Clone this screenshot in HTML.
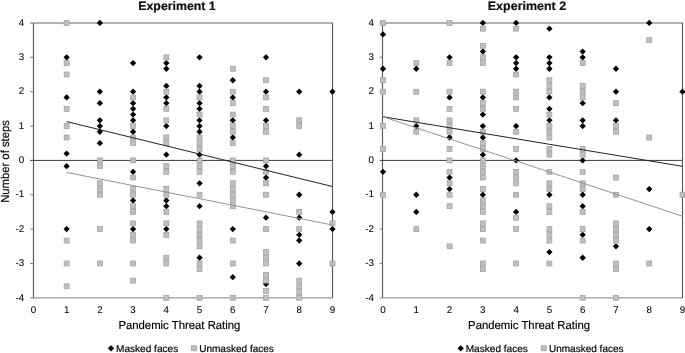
<!DOCTYPE html>
<html><head><meta charset="utf-8"><title>Experiments</title>
<style>
html,body{margin:0;padding:0;background:#fff;overflow:hidden;}
svg{display:block;filter:grayscale(1);}
text{font-family:"Liberation Sans",sans-serif;fill:#000;stroke:#000;stroke-width:0.18px;text-rendering:geometricPrecision;}
.t{font-size:9.8px;stroke-width:0.06px;}
.ax{font-size:11.6px;}
.lg{font-size:10px;}
.ttl{font-size:12.3px;font-weight:bold;fill:#111;}
</style></head><body>
<svg width="685" height="353" viewBox="0 0 685 353">
<rect width="685" height="353" fill="#fff"/>
<line x1="30.10" y1="22.96" x2="332.97" y2="22.96" stroke="#9a9a9a" stroke-width="1.4"/>
<line x1="30.10" y1="297.84" x2="332.97" y2="297.84" stroke="#9a9a9a" stroke-width="1.4"/>
<line x1="33.50" y1="22.96" x2="33.50" y2="297.84" stroke="#5c5c5c" stroke-width="1.15"/>
<line x1="332.50" y1="22.96" x2="332.50" y2="297.84" stroke="#5c5c5c" stroke-width="1.15"/>
<line x1="30.10" y1="263.48" x2="33.40" y2="263.48" stroke="#7a7a7a" stroke-width="1"/>
<line x1="30.10" y1="229.12" x2="33.40" y2="229.12" stroke="#7a7a7a" stroke-width="1"/>
<line x1="30.10" y1="194.76" x2="33.40" y2="194.76" stroke="#7a7a7a" stroke-width="1"/>
<line x1="30.10" y1="126.04" x2="33.40" y2="126.04" stroke="#7a7a7a" stroke-width="1"/>
<line x1="30.10" y1="91.68" x2="33.40" y2="91.68" stroke="#7a7a7a" stroke-width="1"/>
<line x1="30.10" y1="57.32" x2="33.40" y2="57.32" stroke="#7a7a7a" stroke-width="1"/>
<line x1="30.10" y1="160.40" x2="332.47" y2="160.40" stroke="#3c3c3c" stroke-width="1"/>
<path d="M66.63 54.17L69.78 57.32L66.63 60.47L63.48 57.32Z" fill="#000"/>
<path d="M66.63 94.26L69.78 97.41L66.63 100.56L63.48 97.41Z" fill="#000"/>
<path d="M66.63 150.38L69.78 153.53L66.63 156.68L63.48 153.53Z" fill="#000"/>
<path d="M66.63 162.98L69.78 166.13L66.63 169.28L63.48 166.13Z" fill="#000"/>
<path d="M66.63 225.97L69.78 229.12L66.63 232.27L63.48 229.12Z" fill="#000"/>
<path d="M99.86 19.81L103.01 22.96L99.86 26.11L96.71 22.96Z" fill="#000"/>
<path d="M99.86 88.53L103.01 91.68L99.86 94.83L96.71 91.68Z" fill="#000"/>
<path d="M99.86 99.98L103.01 103.13L99.86 106.28L96.71 103.13Z" fill="#000"/>
<path d="M99.86 117.16L103.01 120.31L99.86 123.46L96.71 120.31Z" fill="#000"/>
<path d="M99.86 122.89L103.01 126.04L99.86 129.19L96.71 126.04Z" fill="#000"/>
<path d="M99.86 128.62L103.01 131.77L99.86 134.92L96.71 131.77Z" fill="#000"/>
<path d="M99.86 140.07L103.01 143.22L99.86 146.37L96.71 143.22Z" fill="#000"/>
<path d="M133.09 59.90L136.24 63.05L133.09 66.20L129.94 63.05Z" fill="#000"/>
<path d="M133.09 88.53L136.24 91.68L133.09 94.83L129.94 91.68Z" fill="#000"/>
<path d="M133.09 99.98L136.24 103.13L133.09 106.28L129.94 103.13Z" fill="#000"/>
<path d="M133.09 105.71L136.24 108.86L133.09 112.01L129.94 108.86Z" fill="#000"/>
<path d="M133.09 111.44L136.24 114.59L133.09 117.74L129.94 114.59Z" fill="#000"/>
<path d="M133.09 117.16L136.24 120.31L133.09 123.46L129.94 120.31Z" fill="#000"/>
<path d="M133.09 128.62L136.24 131.77L133.09 134.92L129.94 131.77Z" fill="#000"/>
<path d="M133.09 168.70L136.24 171.85L133.09 175.00L129.94 171.85Z" fill="#000"/>
<path d="M133.09 197.34L136.24 200.49L133.09 203.64L129.94 200.49Z" fill="#000"/>
<path d="M133.09 225.97L136.24 229.12L133.09 232.27L129.94 229.12Z" fill="#000"/>
<path d="M166.32 59.90L169.47 63.05L166.32 66.20L163.17 63.05Z" fill="#000"/>
<path d="M166.32 65.62L169.47 68.77L166.32 71.92L163.17 68.77Z" fill="#000"/>
<path d="M166.32 82.80L169.47 85.95L166.32 89.10L163.17 85.95Z" fill="#000"/>
<path d="M166.32 94.26L169.47 97.41L166.32 100.56L163.17 97.41Z" fill="#000"/>
<path d="M166.32 99.98L169.47 103.13L166.32 106.28L163.17 103.13Z" fill="#000"/>
<path d="M166.32 122.89L169.47 126.04L166.32 129.19L163.17 126.04Z" fill="#000"/>
<path d="M166.32 151.52L169.47 154.67L166.32 157.82L163.17 154.67Z" fill="#000"/>
<path d="M166.32 197.34L169.47 200.49L166.32 203.64L163.17 200.49Z" fill="#000"/>
<path d="M166.32 203.06L169.47 206.21L166.32 209.36L163.17 206.21Z" fill="#000"/>
<path d="M166.32 225.97L169.47 229.12L166.32 232.27L163.17 229.12Z" fill="#000"/>
<path d="M199.55 54.17L202.70 57.32L199.55 60.47L196.40 57.32Z" fill="#000"/>
<path d="M199.55 82.80L202.70 85.95L199.55 89.10L196.40 85.95Z" fill="#000"/>
<path d="M199.55 88.53L202.70 91.68L199.55 94.83L196.40 91.68Z" fill="#000"/>
<path d="M199.55 99.98L202.70 103.13L199.55 106.28L196.40 103.13Z" fill="#000"/>
<path d="M199.55 105.71L202.70 108.86L199.55 112.01L196.40 108.86Z" fill="#000"/>
<path d="M199.55 117.16L202.70 120.31L199.55 123.46L196.40 120.31Z" fill="#000"/>
<path d="M199.55 122.89L202.70 126.04L199.55 129.19L196.40 126.04Z" fill="#000"/>
<path d="M199.55 128.62L202.70 131.77L199.55 134.92L196.40 131.77Z" fill="#000"/>
<path d="M199.55 151.52L202.70 154.67L199.55 157.82L196.40 154.67Z" fill="#000"/>
<path d="M199.55 180.16L202.70 183.31L199.55 186.46L196.40 183.31Z" fill="#000"/>
<path d="M199.55 203.06L202.70 206.21L199.55 209.36L196.40 206.21Z" fill="#000"/>
<path d="M199.55 254.60L202.70 257.75L199.55 260.90L196.40 257.75Z" fill="#000"/>
<path d="M232.78 77.08L235.93 80.23L232.78 83.38L229.63 80.23Z" fill="#000"/>
<path d="M232.78 94.26L235.93 97.41L232.78 100.56L229.63 97.41Z" fill="#000"/>
<path d="M232.78 117.16L235.93 120.31L232.78 123.46L229.63 120.31Z" fill="#000"/>
<path d="M232.78 134.34L235.93 137.49L232.78 140.64L229.63 137.49Z" fill="#000"/>
<path d="M232.78 225.97L235.93 229.12L232.78 232.27L229.63 229.12Z" fill="#000"/>
<path d="M232.78 274.07L235.93 277.22L232.78 280.37L229.63 277.22Z" fill="#000"/>
<path d="M266.01 54.17L269.16 57.32L266.01 60.47L262.86 57.32Z" fill="#000"/>
<path d="M266.01 88.53L269.16 91.68L266.01 94.83L262.86 91.68Z" fill="#000"/>
<path d="M266.01 117.16L269.16 120.31L266.01 123.46L262.86 120.31Z" fill="#000"/>
<path d="M266.01 162.98L269.16 166.13L266.01 169.28L262.86 166.13Z" fill="#000"/>
<path d="M266.01 174.43L269.16 177.58L266.01 180.73L262.86 177.58Z" fill="#000"/>
<path d="M266.01 214.52L269.16 217.67L266.01 220.82L262.86 217.67Z" fill="#000"/>
<path d="M266.01 280.95L269.16 284.10L266.01 287.25L262.86 284.10Z" fill="#000"/>
<path d="M299.24 88.53L302.39 91.68L299.24 94.83L296.09 91.68Z" fill="#000"/>
<path d="M299.24 151.52L302.39 154.67L299.24 157.82L296.09 154.67Z" fill="#000"/>
<path d="M299.24 191.61L302.39 194.76L299.24 197.91L296.09 194.76Z" fill="#000"/>
<path d="M299.24 214.52L302.39 217.67L299.24 220.82L296.09 217.67Z" fill="#000"/>
<path d="M299.24 231.70L302.39 234.85L299.24 238.00L296.09 234.85Z" fill="#000"/>
<path d="M299.24 237.42L302.39 240.57L299.24 243.72L296.09 240.57Z" fill="#000"/>
<path d="M299.24 260.33L302.39 263.48L299.24 266.63L296.09 263.48Z" fill="#000"/>
<path d="M332.47 88.53L335.62 91.68L332.47 94.83L329.32 91.68Z" fill="#000"/>
<path d="M332.47 208.79L335.62 211.94L332.47 215.09L329.32 211.94Z" fill="#000"/>
<path d="M332.47 225.97L335.62 229.12L332.47 232.27L329.32 229.12Z" fill="#000"/>
<rect x="64.18" y="20.51" width="4.90" height="4.90" fill="#c0c0c0" stroke="#a2a2a2" stroke-width="0.8"/>
<rect x="64.18" y="60.60" width="4.90" height="4.90" fill="#c0c0c0" stroke="#a2a2a2" stroke-width="0.8"/>
<rect x="64.18" y="72.05" width="4.90" height="4.90" fill="#c0c0c0" stroke="#a2a2a2" stroke-width="0.8"/>
<rect x="64.18" y="106.41" width="4.90" height="4.90" fill="#c0c0c0" stroke="#a2a2a2" stroke-width="0.8"/>
<rect x="64.18" y="123.59" width="4.90" height="4.90" fill="#c0c0c0" stroke="#a2a2a2" stroke-width="0.8"/>
<rect x="64.18" y="135.04" width="4.90" height="4.90" fill="#c0c0c0" stroke="#a2a2a2" stroke-width="0.8"/>
<rect x="64.18" y="238.12" width="4.90" height="4.90" fill="#c0c0c0" stroke="#a2a2a2" stroke-width="0.8"/>
<rect x="64.18" y="261.03" width="4.90" height="4.90" fill="#c0c0c0" stroke="#a2a2a2" stroke-width="0.8"/>
<rect x="64.18" y="283.94" width="4.90" height="4.90" fill="#c0c0c0" stroke="#a2a2a2" stroke-width="0.8"/>
<rect x="97.41" y="157.95" width="4.90" height="4.90" fill="#c0c0c0" stroke="#a2a2a2" stroke-width="0.8"/>
<rect x="97.41" y="163.68" width="4.90" height="4.90" fill="#c0c0c0" stroke="#a2a2a2" stroke-width="0.8"/>
<rect x="97.41" y="180.86" width="4.90" height="4.90" fill="#c0c0c0" stroke="#a2a2a2" stroke-width="0.8"/>
<rect x="97.41" y="186.58" width="4.90" height="4.90" fill="#c0c0c0" stroke="#a2a2a2" stroke-width="0.8"/>
<rect x="97.41" y="192.31" width="4.90" height="4.90" fill="#c0c0c0" stroke="#a2a2a2" stroke-width="0.8"/>
<rect x="97.41" y="226.67" width="4.90" height="4.90" fill="#c0c0c0" stroke="#a2a2a2" stroke-width="0.8"/>
<rect x="97.41" y="261.03" width="4.90" height="4.90" fill="#c0c0c0" stroke="#a2a2a2" stroke-width="0.8"/>
<rect x="130.64" y="94.96" width="4.90" height="4.90" fill="#c0c0c0" stroke="#a2a2a2" stroke-width="0.8"/>
<rect x="130.64" y="123.59" width="4.90" height="4.90" fill="#c0c0c0" stroke="#a2a2a2" stroke-width="0.8"/>
<rect x="130.64" y="135.04" width="4.90" height="4.90" fill="#c0c0c0" stroke="#a2a2a2" stroke-width="0.8"/>
<rect x="130.64" y="140.77" width="4.90" height="4.90" fill="#c0c0c0" stroke="#a2a2a2" stroke-width="0.8"/>
<rect x="130.64" y="157.95" width="4.90" height="4.90" fill="#c0c0c0" stroke="#a2a2a2" stroke-width="0.8"/>
<rect x="130.64" y="175.13" width="4.90" height="4.90" fill="#c0c0c0" stroke="#a2a2a2" stroke-width="0.8"/>
<rect x="130.64" y="186.58" width="4.90" height="4.90" fill="#c0c0c0" stroke="#a2a2a2" stroke-width="0.8"/>
<rect x="130.64" y="192.31" width="4.90" height="4.90" fill="#c0c0c0" stroke="#a2a2a2" stroke-width="0.8"/>
<rect x="130.64" y="203.76" width="4.90" height="4.90" fill="#c0c0c0" stroke="#a2a2a2" stroke-width="0.8"/>
<rect x="130.64" y="209.49" width="4.90" height="4.90" fill="#c0c0c0" stroke="#a2a2a2" stroke-width="0.8"/>
<rect x="130.64" y="220.94" width="4.90" height="4.90" fill="#c0c0c0" stroke="#a2a2a2" stroke-width="0.8"/>
<rect x="130.64" y="232.40" width="4.90" height="4.90" fill="#c0c0c0" stroke="#a2a2a2" stroke-width="0.8"/>
<rect x="130.64" y="238.12" width="4.90" height="4.90" fill="#c0c0c0" stroke="#a2a2a2" stroke-width="0.8"/>
<rect x="130.64" y="261.03" width="4.90" height="4.90" fill="#c0c0c0" stroke="#a2a2a2" stroke-width="0.8"/>
<rect x="130.64" y="278.21" width="4.90" height="4.90" fill="#c0c0c0" stroke="#a2a2a2" stroke-width="0.8"/>
<rect x="163.87" y="54.87" width="4.90" height="4.90" fill="#c0c0c0" stroke="#a2a2a2" stroke-width="0.8"/>
<rect x="163.87" y="89.23" width="4.90" height="4.90" fill="#c0c0c0" stroke="#a2a2a2" stroke-width="0.8"/>
<rect x="163.87" y="106.41" width="4.90" height="4.90" fill="#c0c0c0" stroke="#a2a2a2" stroke-width="0.8"/>
<rect x="163.87" y="117.86" width="4.90" height="4.90" fill="#c0c0c0" stroke="#a2a2a2" stroke-width="0.8"/>
<rect x="163.87" y="135.04" width="4.90" height="4.90" fill="#c0c0c0" stroke="#a2a2a2" stroke-width="0.8"/>
<rect x="163.87" y="140.77" width="4.90" height="4.90" fill="#c0c0c0" stroke="#a2a2a2" stroke-width="0.8"/>
<rect x="163.87" y="163.68" width="4.90" height="4.90" fill="#c0c0c0" stroke="#a2a2a2" stroke-width="0.8"/>
<rect x="163.87" y="169.40" width="4.90" height="4.90" fill="#c0c0c0" stroke="#a2a2a2" stroke-width="0.8"/>
<rect x="163.87" y="186.58" width="4.90" height="4.90" fill="#c0c0c0" stroke="#a2a2a2" stroke-width="0.8"/>
<rect x="163.87" y="192.31" width="4.90" height="4.90" fill="#c0c0c0" stroke="#a2a2a2" stroke-width="0.8"/>
<rect x="163.87" y="209.49" width="4.90" height="4.90" fill="#c0c0c0" stroke="#a2a2a2" stroke-width="0.8"/>
<rect x="163.87" y="220.94" width="4.90" height="4.90" fill="#c0c0c0" stroke="#a2a2a2" stroke-width="0.8"/>
<rect x="163.87" y="232.40" width="4.90" height="4.90" fill="#c0c0c0" stroke="#a2a2a2" stroke-width="0.8"/>
<rect x="163.87" y="255.30" width="4.90" height="4.90" fill="#c0c0c0" stroke="#a2a2a2" stroke-width="0.8"/>
<rect x="163.87" y="261.03" width="4.90" height="4.90" fill="#c0c0c0" stroke="#a2a2a2" stroke-width="0.8"/>
<rect x="163.87" y="295.39" width="4.90" height="4.90" fill="#c0c0c0" stroke="#a2a2a2" stroke-width="0.8"/>
<rect x="197.10" y="94.96" width="4.90" height="4.90" fill="#c0c0c0" stroke="#a2a2a2" stroke-width="0.8"/>
<rect x="197.10" y="112.14" width="4.90" height="4.90" fill="#c0c0c0" stroke="#a2a2a2" stroke-width="0.8"/>
<rect x="197.10" y="135.04" width="4.90" height="4.90" fill="#c0c0c0" stroke="#a2a2a2" stroke-width="0.8"/>
<rect x="197.10" y="140.77" width="4.90" height="4.90" fill="#c0c0c0" stroke="#a2a2a2" stroke-width="0.8"/>
<rect x="197.10" y="146.50" width="4.90" height="4.90" fill="#c0c0c0" stroke="#a2a2a2" stroke-width="0.8"/>
<rect x="197.10" y="157.95" width="4.90" height="4.90" fill="#c0c0c0" stroke="#a2a2a2" stroke-width="0.8"/>
<rect x="197.10" y="163.68" width="4.90" height="4.90" fill="#c0c0c0" stroke="#a2a2a2" stroke-width="0.8"/>
<rect x="197.10" y="169.40" width="4.90" height="4.90" fill="#c0c0c0" stroke="#a2a2a2" stroke-width="0.8"/>
<rect x="197.10" y="192.31" width="4.90" height="4.90" fill="#c0c0c0" stroke="#a2a2a2" stroke-width="0.8"/>
<rect x="197.10" y="220.94" width="4.90" height="4.90" fill="#c0c0c0" stroke="#a2a2a2" stroke-width="0.8"/>
<rect x="197.10" y="226.67" width="4.90" height="4.90" fill="#c0c0c0" stroke="#a2a2a2" stroke-width="0.8"/>
<rect x="197.10" y="232.40" width="4.90" height="4.90" fill="#c0c0c0" stroke="#a2a2a2" stroke-width="0.8"/>
<rect x="197.10" y="238.12" width="4.90" height="4.90" fill="#c0c0c0" stroke="#a2a2a2" stroke-width="0.8"/>
<rect x="197.10" y="243.85" width="4.90" height="4.90" fill="#c0c0c0" stroke="#a2a2a2" stroke-width="0.8"/>
<rect x="197.10" y="261.03" width="4.90" height="4.90" fill="#c0c0c0" stroke="#a2a2a2" stroke-width="0.8"/>
<rect x="197.10" y="266.76" width="4.90" height="4.90" fill="#c0c0c0" stroke="#a2a2a2" stroke-width="0.8"/>
<rect x="197.10" y="295.39" width="4.90" height="4.90" fill="#c0c0c0" stroke="#a2a2a2" stroke-width="0.8"/>
<rect x="230.33" y="66.32" width="4.90" height="4.90" fill="#c0c0c0" stroke="#a2a2a2" stroke-width="0.8"/>
<rect x="230.33" y="89.23" width="4.90" height="4.90" fill="#c0c0c0" stroke="#a2a2a2" stroke-width="0.8"/>
<rect x="230.33" y="100.68" width="4.90" height="4.90" fill="#c0c0c0" stroke="#a2a2a2" stroke-width="0.8"/>
<rect x="230.33" y="112.14" width="4.90" height="4.90" fill="#c0c0c0" stroke="#a2a2a2" stroke-width="0.8"/>
<rect x="230.33" y="123.59" width="4.90" height="4.90" fill="#c0c0c0" stroke="#a2a2a2" stroke-width="0.8"/>
<rect x="230.33" y="129.32" width="4.90" height="4.90" fill="#c0c0c0" stroke="#a2a2a2" stroke-width="0.8"/>
<rect x="230.33" y="140.77" width="4.90" height="4.90" fill="#c0c0c0" stroke="#a2a2a2" stroke-width="0.8"/>
<rect x="230.33" y="157.95" width="4.90" height="4.90" fill="#c0c0c0" stroke="#a2a2a2" stroke-width="0.8"/>
<rect x="230.33" y="163.68" width="4.90" height="4.90" fill="#c0c0c0" stroke="#a2a2a2" stroke-width="0.8"/>
<rect x="230.33" y="169.40" width="4.90" height="4.90" fill="#c0c0c0" stroke="#a2a2a2" stroke-width="0.8"/>
<rect x="230.33" y="180.86" width="4.90" height="4.90" fill="#c0c0c0" stroke="#a2a2a2" stroke-width="0.8"/>
<rect x="230.33" y="186.58" width="4.90" height="4.90" fill="#c0c0c0" stroke="#a2a2a2" stroke-width="0.8"/>
<rect x="230.33" y="192.31" width="4.90" height="4.90" fill="#c0c0c0" stroke="#a2a2a2" stroke-width="0.8"/>
<rect x="230.33" y="198.04" width="4.90" height="4.90" fill="#c0c0c0" stroke="#a2a2a2" stroke-width="0.8"/>
<rect x="230.33" y="203.76" width="4.90" height="4.90" fill="#c0c0c0" stroke="#a2a2a2" stroke-width="0.8"/>
<rect x="230.33" y="238.12" width="4.90" height="4.90" fill="#c0c0c0" stroke="#a2a2a2" stroke-width="0.8"/>
<rect x="230.33" y="261.03" width="4.90" height="4.90" fill="#c0c0c0" stroke="#a2a2a2" stroke-width="0.8"/>
<rect x="230.33" y="295.39" width="4.90" height="4.90" fill="#c0c0c0" stroke="#a2a2a2" stroke-width="0.8"/>
<rect x="263.56" y="77.78" width="4.90" height="4.90" fill="#c0c0c0" stroke="#a2a2a2" stroke-width="0.8"/>
<rect x="263.56" y="94.96" width="4.90" height="4.90" fill="#c0c0c0" stroke="#a2a2a2" stroke-width="0.8"/>
<rect x="263.56" y="106.41" width="4.90" height="4.90" fill="#c0c0c0" stroke="#a2a2a2" stroke-width="0.8"/>
<rect x="263.56" y="123.59" width="4.90" height="4.90" fill="#c0c0c0" stroke="#a2a2a2" stroke-width="0.8"/>
<rect x="263.56" y="129.32" width="4.90" height="4.90" fill="#c0c0c0" stroke="#a2a2a2" stroke-width="0.8"/>
<rect x="263.56" y="157.95" width="4.90" height="4.90" fill="#c0c0c0" stroke="#a2a2a2" stroke-width="0.8"/>
<rect x="263.56" y="169.40" width="4.90" height="4.90" fill="#c0c0c0" stroke="#a2a2a2" stroke-width="0.8"/>
<rect x="263.56" y="180.86" width="4.90" height="4.90" fill="#c0c0c0" stroke="#a2a2a2" stroke-width="0.8"/>
<rect x="263.56" y="192.31" width="4.90" height="4.90" fill="#c0c0c0" stroke="#a2a2a2" stroke-width="0.8"/>
<rect x="263.56" y="226.67" width="4.90" height="4.90" fill="#c0c0c0" stroke="#a2a2a2" stroke-width="0.8"/>
<rect x="263.56" y="249.58" width="4.90" height="4.90" fill="#c0c0c0" stroke="#a2a2a2" stroke-width="0.8"/>
<rect x="263.56" y="255.30" width="4.90" height="4.90" fill="#c0c0c0" stroke="#a2a2a2" stroke-width="0.8"/>
<rect x="263.56" y="261.03" width="4.90" height="4.90" fill="#c0c0c0" stroke="#a2a2a2" stroke-width="0.8"/>
<rect x="263.56" y="272.48" width="4.90" height="4.90" fill="#c0c0c0" stroke="#a2a2a2" stroke-width="0.8"/>
<rect x="263.56" y="278.21" width="4.90" height="4.90" fill="#c0c0c0" stroke="#a2a2a2" stroke-width="0.8"/>
<rect x="263.56" y="288.52" width="4.90" height="4.90" fill="#c0c0c0" stroke="#a2a2a2" stroke-width="0.8"/>
<rect x="263.56" y="295.39" width="4.90" height="4.90" fill="#c0c0c0" stroke="#a2a2a2" stroke-width="0.8"/>
<rect x="296.79" y="117.86" width="4.90" height="4.90" fill="#c0c0c0" stroke="#a2a2a2" stroke-width="0.8"/>
<rect x="296.79" y="123.59" width="4.90" height="4.90" fill="#c0c0c0" stroke="#a2a2a2" stroke-width="0.8"/>
<rect x="296.79" y="209.49" width="4.90" height="4.90" fill="#c0c0c0" stroke="#a2a2a2" stroke-width="0.8"/>
<rect x="296.79" y="226.67" width="4.90" height="4.90" fill="#c0c0c0" stroke="#a2a2a2" stroke-width="0.8"/>
<rect x="296.79" y="278.21" width="4.90" height="4.90" fill="#c0c0c0" stroke="#a2a2a2" stroke-width="0.8"/>
<rect x="296.79" y="283.94" width="4.90" height="4.90" fill="#c0c0c0" stroke="#a2a2a2" stroke-width="0.8"/>
<rect x="296.79" y="289.66" width="4.90" height="4.90" fill="#c0c0c0" stroke="#a2a2a2" stroke-width="0.8"/>
<rect x="296.79" y="295.39" width="4.90" height="4.90" fill="#c0c0c0" stroke="#a2a2a2" stroke-width="0.8"/>
<rect x="330.02" y="220.94" width="4.90" height="4.90" fill="#c0c0c0" stroke="#a2a2a2" stroke-width="0.8"/>
<rect x="330.02" y="261.03" width="4.90" height="4.90" fill="#c0c0c0" stroke="#a2a2a2" stroke-width="0.8"/>
<line x1="66.63" y1="121.57" x2="332.47" y2="186.51" stroke="#222" stroke-width="1"/>
<line x1="66.63" y1="172.43" x2="332.47" y2="225.00" stroke="#949494" stroke-width="1"/>
<text x="24.30" y="300.54" text-anchor="end" class="t">-4</text>
<text x="24.30" y="266.18" text-anchor="end" class="t">-3</text>
<text x="24.30" y="231.82" text-anchor="end" class="t">-2</text>
<text x="24.30" y="197.46" text-anchor="end" class="t">-1</text>
<text x="24.30" y="163.10" text-anchor="end" class="t">0</text>
<text x="24.30" y="128.74" text-anchor="end" class="t">1</text>
<text x="24.30" y="94.38" text-anchor="end" class="t">2</text>
<text x="24.30" y="60.02" text-anchor="end" class="t">3</text>
<text x="24.30" y="25.66" text-anchor="end" class="t">4</text>
<text x="33.40" y="313.2" text-anchor="middle" class="t">0</text>
<text x="66.63" y="313.2" text-anchor="middle" class="t">1</text>
<text x="99.86" y="313.2" text-anchor="middle" class="t">2</text>
<text x="133.09" y="313.2" text-anchor="middle" class="t">3</text>
<text x="166.32" y="313.2" text-anchor="middle" class="t">4</text>
<text x="199.55" y="313.2" text-anchor="middle" class="t">5</text>
<text x="232.78" y="313.2" text-anchor="middle" class="t">6</text>
<text x="266.01" y="313.2" text-anchor="middle" class="t">7</text>
<text x="299.24" y="313.2" text-anchor="middle" class="t">8</text>
<text x="332.47" y="313.2" text-anchor="middle" class="t">9</text>
<line x1="379.70" y1="22.96" x2="683.02" y2="22.96" stroke="#9a9a9a" stroke-width="1.4"/>
<line x1="379.70" y1="297.84" x2="683.02" y2="297.84" stroke="#9a9a9a" stroke-width="1.4"/>
<line x1="382.50" y1="22.96" x2="382.50" y2="297.84" stroke="#5c5c5c" stroke-width="1.15"/>
<line x1="682.50" y1="22.96" x2="682.50" y2="297.84" stroke="#5c5c5c" stroke-width="1.15"/>
<line x1="379.70" y1="263.48" x2="383.00" y2="263.48" stroke="#7a7a7a" stroke-width="1"/>
<line x1="379.70" y1="229.12" x2="383.00" y2="229.12" stroke="#7a7a7a" stroke-width="1"/>
<line x1="379.70" y1="194.76" x2="383.00" y2="194.76" stroke="#7a7a7a" stroke-width="1"/>
<line x1="379.70" y1="126.04" x2="383.00" y2="126.04" stroke="#7a7a7a" stroke-width="1"/>
<line x1="379.70" y1="91.68" x2="383.00" y2="91.68" stroke="#7a7a7a" stroke-width="1"/>
<line x1="379.70" y1="57.32" x2="383.00" y2="57.32" stroke="#7a7a7a" stroke-width="1"/>
<line x1="379.70" y1="160.40" x2="682.52" y2="160.40" stroke="#3c3c3c" stroke-width="1"/>
<path d="M383.00 31.26L386.15 34.41L383.00 37.56L379.85 34.41Z" fill="#000"/>
<path d="M383.00 65.62L386.15 68.77L383.00 71.92L379.85 68.77Z" fill="#000"/>
<path d="M383.00 168.70L386.15 171.85L383.00 175.00L379.85 171.85Z" fill="#000"/>
<path d="M416.28 65.62L419.43 68.77L416.28 71.92L413.13 68.77Z" fill="#000"/>
<path d="M416.28 122.89L419.43 126.04L416.28 129.19L413.13 126.04Z" fill="#000"/>
<path d="M416.28 191.61L419.43 194.76L416.28 197.91L413.13 194.76Z" fill="#000"/>
<path d="M416.28 208.79L419.43 211.94L416.28 215.09L413.13 211.94Z" fill="#000"/>
<path d="M449.56 54.17L452.71 57.32L449.56 60.47L446.41 57.32Z" fill="#000"/>
<path d="M449.56 94.26L452.71 97.41L449.56 100.56L446.41 97.41Z" fill="#000"/>
<path d="M449.56 134.34L452.71 137.49L449.56 140.64L446.41 137.49Z" fill="#000"/>
<path d="M449.56 174.43L452.71 177.58L449.56 180.73L446.41 177.58Z" fill="#000"/>
<path d="M449.56 185.88L452.71 189.03L449.56 192.18L446.41 189.03Z" fill="#000"/>
<path d="M482.84 19.81L485.99 22.96L482.84 26.11L479.69 22.96Z" fill="#000"/>
<path d="M482.84 48.44L485.99 51.59L482.84 54.74L479.69 51.59Z" fill="#000"/>
<path d="M482.84 94.26L485.99 97.41L482.84 100.56L479.69 97.41Z" fill="#000"/>
<path d="M482.84 111.44L485.99 114.59L482.84 117.74L479.69 114.59Z" fill="#000"/>
<path d="M482.84 122.89L485.99 126.04L482.84 129.19L479.69 126.04Z" fill="#000"/>
<path d="M482.84 134.34L485.99 137.49L482.84 140.64L479.69 137.49Z" fill="#000"/>
<path d="M482.84 151.52L485.99 154.67L482.84 157.82L479.69 154.67Z" fill="#000"/>
<path d="M482.84 191.61L485.99 194.76L482.84 197.91L479.69 194.76Z" fill="#000"/>
<path d="M516.12 19.81L519.27 22.96L516.12 26.11L512.97 22.96Z" fill="#000"/>
<path d="M516.12 54.17L519.27 57.32L516.12 60.47L512.97 57.32Z" fill="#000"/>
<path d="M516.12 59.90L519.27 63.05L516.12 66.20L512.97 63.05Z" fill="#000"/>
<path d="M516.12 65.62L519.27 68.77L516.12 71.92L512.97 68.77Z" fill="#000"/>
<path d="M516.12 122.89L519.27 126.04L516.12 129.19L512.97 126.04Z" fill="#000"/>
<path d="M516.12 157.25L519.27 160.40L516.12 163.55L512.97 160.40Z" fill="#000"/>
<path d="M516.12 208.79L519.27 211.94L516.12 215.09L512.97 211.94Z" fill="#000"/>
<path d="M549.40 25.54L552.55 28.69L549.40 31.84L546.25 28.69Z" fill="#000"/>
<path d="M549.40 54.17L552.55 57.32L549.40 60.47L546.25 57.32Z" fill="#000"/>
<path d="M549.40 59.90L552.55 63.05L549.40 66.20L546.25 63.05Z" fill="#000"/>
<path d="M549.40 65.62L552.55 68.77L549.40 71.92L546.25 68.77Z" fill="#000"/>
<path d="M549.40 94.26L552.55 97.41L549.40 100.56L546.25 97.41Z" fill="#000"/>
<path d="M549.40 105.71L552.55 108.86L549.40 112.01L546.25 108.86Z" fill="#000"/>
<path d="M549.40 117.16L552.55 120.31L549.40 123.46L546.25 120.31Z" fill="#000"/>
<path d="M549.40 191.61L552.55 194.76L549.40 197.91L546.25 194.76Z" fill="#000"/>
<path d="M549.40 248.88L552.55 252.03L549.40 255.18L546.25 252.03Z" fill="#000"/>
<path d="M582.68 48.44L585.83 51.59L582.68 54.74L579.53 51.59Z" fill="#000"/>
<path d="M582.68 54.17L585.83 57.32L582.68 60.47L579.53 57.32Z" fill="#000"/>
<path d="M582.68 99.98L585.83 103.13L582.68 106.28L579.53 103.13Z" fill="#000"/>
<path d="M582.68 117.16L585.83 120.31L582.68 123.46L579.53 120.31Z" fill="#000"/>
<path d="M582.68 122.89L585.83 126.04L582.68 129.19L579.53 126.04Z" fill="#000"/>
<path d="M582.68 157.25L585.83 160.40L582.68 163.55L579.53 160.40Z" fill="#000"/>
<path d="M582.68 191.61L585.83 194.76L582.68 197.91L579.53 194.76Z" fill="#000"/>
<path d="M582.68 203.06L585.83 206.21L582.68 209.36L579.53 206.21Z" fill="#000"/>
<path d="M582.68 231.70L585.83 234.85L582.68 238.00L579.53 234.85Z" fill="#000"/>
<path d="M582.68 254.60L585.83 257.75L582.68 260.90L579.53 257.75Z" fill="#000"/>
<path d="M615.96 65.62L619.11 68.77L615.96 71.92L612.81 68.77Z" fill="#000"/>
<path d="M615.96 88.53L619.11 91.68L615.96 94.83L612.81 91.68Z" fill="#000"/>
<path d="M615.96 117.16L619.11 120.31L615.96 123.46L612.81 120.31Z" fill="#000"/>
<path d="M615.96 243.15L619.11 246.30L615.96 249.45L612.81 246.30Z" fill="#000"/>
<path d="M649.24 19.81L652.39 22.96L649.24 26.11L646.09 22.96Z" fill="#000"/>
<path d="M649.24 185.88L652.39 189.03L649.24 192.18L646.09 189.03Z" fill="#000"/>
<path d="M649.24 225.97L652.39 229.12L649.24 232.27L646.09 229.12Z" fill="#000"/>
<path d="M682.52 88.53L685.67 91.68L682.52 94.83L679.37 91.68Z" fill="#000"/>
<rect x="380.55" y="20.51" width="4.90" height="4.90" fill="#c0c0c0" stroke="#a2a2a2" stroke-width="0.8"/>
<rect x="380.55" y="77.78" width="4.90" height="4.90" fill="#c0c0c0" stroke="#a2a2a2" stroke-width="0.8"/>
<rect x="380.55" y="89.23" width="4.90" height="4.90" fill="#c0c0c0" stroke="#a2a2a2" stroke-width="0.8"/>
<rect x="380.55" y="123.59" width="4.90" height="4.90" fill="#c0c0c0" stroke="#a2a2a2" stroke-width="0.8"/>
<rect x="380.55" y="146.50" width="4.90" height="4.90" fill="#c0c0c0" stroke="#a2a2a2" stroke-width="0.8"/>
<rect x="380.55" y="192.31" width="4.90" height="4.90" fill="#c0c0c0" stroke="#a2a2a2" stroke-width="0.8"/>
<rect x="413.83" y="60.60" width="4.90" height="4.90" fill="#c0c0c0" stroke="#a2a2a2" stroke-width="0.8"/>
<rect x="413.83" y="89.23" width="4.90" height="4.90" fill="#c0c0c0" stroke="#a2a2a2" stroke-width="0.8"/>
<rect x="413.83" y="117.86" width="4.90" height="4.90" fill="#c0c0c0" stroke="#a2a2a2" stroke-width="0.8"/>
<rect x="413.83" y="129.32" width="4.90" height="4.90" fill="#c0c0c0" stroke="#a2a2a2" stroke-width="0.8"/>
<rect x="413.83" y="226.67" width="4.90" height="4.90" fill="#c0c0c0" stroke="#a2a2a2" stroke-width="0.8"/>
<rect x="447.11" y="20.51" width="4.90" height="4.90" fill="#c0c0c0" stroke="#a2a2a2" stroke-width="0.8"/>
<rect x="447.11" y="60.60" width="4.90" height="4.90" fill="#c0c0c0" stroke="#a2a2a2" stroke-width="0.8"/>
<rect x="447.11" y="89.23" width="4.90" height="4.90" fill="#c0c0c0" stroke="#a2a2a2" stroke-width="0.8"/>
<rect x="447.11" y="106.41" width="4.90" height="4.90" fill="#c0c0c0" stroke="#a2a2a2" stroke-width="0.8"/>
<rect x="447.11" y="117.86" width="4.90" height="4.90" fill="#c0c0c0" stroke="#a2a2a2" stroke-width="0.8"/>
<rect x="447.11" y="123.59" width="4.90" height="4.90" fill="#c0c0c0" stroke="#a2a2a2" stroke-width="0.8"/>
<rect x="447.11" y="129.32" width="4.90" height="4.90" fill="#c0c0c0" stroke="#a2a2a2" stroke-width="0.8"/>
<rect x="447.11" y="146.50" width="4.90" height="4.90" fill="#c0c0c0" stroke="#a2a2a2" stroke-width="0.8"/>
<rect x="447.11" y="157.95" width="4.90" height="4.90" fill="#c0c0c0" stroke="#a2a2a2" stroke-width="0.8"/>
<rect x="447.11" y="169.40" width="4.90" height="4.90" fill="#c0c0c0" stroke="#a2a2a2" stroke-width="0.8"/>
<rect x="447.11" y="180.86" width="4.90" height="4.90" fill="#c0c0c0" stroke="#a2a2a2" stroke-width="0.8"/>
<rect x="447.11" y="192.31" width="4.90" height="4.90" fill="#c0c0c0" stroke="#a2a2a2" stroke-width="0.8"/>
<rect x="447.11" y="203.76" width="4.90" height="4.90" fill="#c0c0c0" stroke="#a2a2a2" stroke-width="0.8"/>
<rect x="447.11" y="243.85" width="4.90" height="4.90" fill="#c0c0c0" stroke="#a2a2a2" stroke-width="0.8"/>
<rect x="480.39" y="26.24" width="4.90" height="4.90" fill="#c0c0c0" stroke="#a2a2a2" stroke-width="0.8"/>
<rect x="480.39" y="43.42" width="4.90" height="4.90" fill="#c0c0c0" stroke="#a2a2a2" stroke-width="0.8"/>
<rect x="480.39" y="54.87" width="4.90" height="4.90" fill="#c0c0c0" stroke="#a2a2a2" stroke-width="0.8"/>
<rect x="480.39" y="60.60" width="4.90" height="4.90" fill="#c0c0c0" stroke="#a2a2a2" stroke-width="0.8"/>
<rect x="480.39" y="89.23" width="4.90" height="4.90" fill="#c0c0c0" stroke="#a2a2a2" stroke-width="0.8"/>
<rect x="480.39" y="100.68" width="4.90" height="4.90" fill="#c0c0c0" stroke="#a2a2a2" stroke-width="0.8"/>
<rect x="480.39" y="106.41" width="4.90" height="4.90" fill="#c0c0c0" stroke="#a2a2a2" stroke-width="0.8"/>
<rect x="480.39" y="129.32" width="4.90" height="4.90" fill="#c0c0c0" stroke="#a2a2a2" stroke-width="0.8"/>
<rect x="480.39" y="140.77" width="4.90" height="4.90" fill="#c0c0c0" stroke="#a2a2a2" stroke-width="0.8"/>
<rect x="480.39" y="146.50" width="4.90" height="4.90" fill="#c0c0c0" stroke="#a2a2a2" stroke-width="0.8"/>
<rect x="480.39" y="157.95" width="4.90" height="4.90" fill="#c0c0c0" stroke="#a2a2a2" stroke-width="0.8"/>
<rect x="480.39" y="163.68" width="4.90" height="4.90" fill="#c0c0c0" stroke="#a2a2a2" stroke-width="0.8"/>
<rect x="480.39" y="169.40" width="4.90" height="4.90" fill="#c0c0c0" stroke="#a2a2a2" stroke-width="0.8"/>
<rect x="480.39" y="175.13" width="4.90" height="4.90" fill="#c0c0c0" stroke="#a2a2a2" stroke-width="0.8"/>
<rect x="480.39" y="186.58" width="4.90" height="4.90" fill="#c0c0c0" stroke="#a2a2a2" stroke-width="0.8"/>
<rect x="480.39" y="198.04" width="4.90" height="4.90" fill="#c0c0c0" stroke="#a2a2a2" stroke-width="0.8"/>
<rect x="480.39" y="203.76" width="4.90" height="4.90" fill="#c0c0c0" stroke="#a2a2a2" stroke-width="0.8"/>
<rect x="480.39" y="209.49" width="4.90" height="4.90" fill="#c0c0c0" stroke="#a2a2a2" stroke-width="0.8"/>
<rect x="480.39" y="220.94" width="4.90" height="4.90" fill="#c0c0c0" stroke="#a2a2a2" stroke-width="0.8"/>
<rect x="480.39" y="226.67" width="4.90" height="4.90" fill="#c0c0c0" stroke="#a2a2a2" stroke-width="0.8"/>
<rect x="480.39" y="238.12" width="4.90" height="4.90" fill="#c0c0c0" stroke="#a2a2a2" stroke-width="0.8"/>
<rect x="480.39" y="261.03" width="4.90" height="4.90" fill="#c0c0c0" stroke="#a2a2a2" stroke-width="0.8"/>
<rect x="480.39" y="266.76" width="4.90" height="4.90" fill="#c0c0c0" stroke="#a2a2a2" stroke-width="0.8"/>
<rect x="513.67" y="26.24" width="4.90" height="4.90" fill="#c0c0c0" stroke="#a2a2a2" stroke-width="0.8"/>
<rect x="513.67" y="72.05" width="4.90" height="4.90" fill="#c0c0c0" stroke="#a2a2a2" stroke-width="0.8"/>
<rect x="513.67" y="89.23" width="4.90" height="4.90" fill="#c0c0c0" stroke="#a2a2a2" stroke-width="0.8"/>
<rect x="513.67" y="94.96" width="4.90" height="4.90" fill="#c0c0c0" stroke="#a2a2a2" stroke-width="0.8"/>
<rect x="513.67" y="106.41" width="4.90" height="4.90" fill="#c0c0c0" stroke="#a2a2a2" stroke-width="0.8"/>
<rect x="513.67" y="129.32" width="4.90" height="4.90" fill="#c0c0c0" stroke="#a2a2a2" stroke-width="0.8"/>
<rect x="513.67" y="146.50" width="4.90" height="4.90" fill="#c0c0c0" stroke="#a2a2a2" stroke-width="0.8"/>
<rect x="513.67" y="169.40" width="4.90" height="4.90" fill="#c0c0c0" stroke="#a2a2a2" stroke-width="0.8"/>
<rect x="513.67" y="175.13" width="4.90" height="4.90" fill="#c0c0c0" stroke="#a2a2a2" stroke-width="0.8"/>
<rect x="513.67" y="180.86" width="4.90" height="4.90" fill="#c0c0c0" stroke="#a2a2a2" stroke-width="0.8"/>
<rect x="513.67" y="192.31" width="4.90" height="4.90" fill="#c0c0c0" stroke="#a2a2a2" stroke-width="0.8"/>
<rect x="513.67" y="215.22" width="4.90" height="4.90" fill="#c0c0c0" stroke="#a2a2a2" stroke-width="0.8"/>
<rect x="513.67" y="226.67" width="4.90" height="4.90" fill="#c0c0c0" stroke="#a2a2a2" stroke-width="0.8"/>
<rect x="513.67" y="261.03" width="4.90" height="4.90" fill="#c0c0c0" stroke="#a2a2a2" stroke-width="0.8"/>
<rect x="546.95" y="77.78" width="4.90" height="4.90" fill="#c0c0c0" stroke="#a2a2a2" stroke-width="0.8"/>
<rect x="546.95" y="83.50" width="4.90" height="4.90" fill="#c0c0c0" stroke="#a2a2a2" stroke-width="0.8"/>
<rect x="546.95" y="89.23" width="4.90" height="4.90" fill="#c0c0c0" stroke="#a2a2a2" stroke-width="0.8"/>
<rect x="546.95" y="112.14" width="4.90" height="4.90" fill="#c0c0c0" stroke="#a2a2a2" stroke-width="0.8"/>
<rect x="546.95" y="123.59" width="4.90" height="4.90" fill="#c0c0c0" stroke="#a2a2a2" stroke-width="0.8"/>
<rect x="546.95" y="129.32" width="4.90" height="4.90" fill="#c0c0c0" stroke="#a2a2a2" stroke-width="0.8"/>
<rect x="546.95" y="135.04" width="4.90" height="4.90" fill="#c0c0c0" stroke="#a2a2a2" stroke-width="0.8"/>
<rect x="546.95" y="146.50" width="4.90" height="4.90" fill="#c0c0c0" stroke="#a2a2a2" stroke-width="0.8"/>
<rect x="546.95" y="152.22" width="4.90" height="4.90" fill="#c0c0c0" stroke="#a2a2a2" stroke-width="0.8"/>
<rect x="546.95" y="169.40" width="4.90" height="4.90" fill="#c0c0c0" stroke="#a2a2a2" stroke-width="0.8"/>
<rect x="546.95" y="180.86" width="4.90" height="4.90" fill="#c0c0c0" stroke="#a2a2a2" stroke-width="0.8"/>
<rect x="546.95" y="186.58" width="4.90" height="4.90" fill="#c0c0c0" stroke="#a2a2a2" stroke-width="0.8"/>
<rect x="546.95" y="203.76" width="4.90" height="4.90" fill="#c0c0c0" stroke="#a2a2a2" stroke-width="0.8"/>
<rect x="546.95" y="209.49" width="4.90" height="4.90" fill="#c0c0c0" stroke="#a2a2a2" stroke-width="0.8"/>
<rect x="546.95" y="226.67" width="4.90" height="4.90" fill="#c0c0c0" stroke="#a2a2a2" stroke-width="0.8"/>
<rect x="546.95" y="232.40" width="4.90" height="4.90" fill="#c0c0c0" stroke="#a2a2a2" stroke-width="0.8"/>
<rect x="546.95" y="238.12" width="4.90" height="4.90" fill="#c0c0c0" stroke="#a2a2a2" stroke-width="0.8"/>
<rect x="546.95" y="261.03" width="4.90" height="4.90" fill="#c0c0c0" stroke="#a2a2a2" stroke-width="0.8"/>
<rect x="580.23" y="60.60" width="4.90" height="4.90" fill="#c0c0c0" stroke="#a2a2a2" stroke-width="0.8"/>
<rect x="580.23" y="83.50" width="4.90" height="4.90" fill="#c0c0c0" stroke="#a2a2a2" stroke-width="0.8"/>
<rect x="580.23" y="89.23" width="4.90" height="4.90" fill="#c0c0c0" stroke="#a2a2a2" stroke-width="0.8"/>
<rect x="580.23" y="94.96" width="4.90" height="4.90" fill="#c0c0c0" stroke="#a2a2a2" stroke-width="0.8"/>
<rect x="580.23" y="146.50" width="4.90" height="4.90" fill="#c0c0c0" stroke="#a2a2a2" stroke-width="0.8"/>
<rect x="580.23" y="152.22" width="4.90" height="4.90" fill="#c0c0c0" stroke="#a2a2a2" stroke-width="0.8"/>
<rect x="580.23" y="169.40" width="4.90" height="4.90" fill="#c0c0c0" stroke="#a2a2a2" stroke-width="0.8"/>
<rect x="580.23" y="180.86" width="4.90" height="4.90" fill="#c0c0c0" stroke="#a2a2a2" stroke-width="0.8"/>
<rect x="580.23" y="186.58" width="4.90" height="4.90" fill="#c0c0c0" stroke="#a2a2a2" stroke-width="0.8"/>
<rect x="580.23" y="209.49" width="4.90" height="4.90" fill="#c0c0c0" stroke="#a2a2a2" stroke-width="0.8"/>
<rect x="580.23" y="226.67" width="4.90" height="4.90" fill="#c0c0c0" stroke="#a2a2a2" stroke-width="0.8"/>
<rect x="580.23" y="238.12" width="4.90" height="4.90" fill="#c0c0c0" stroke="#a2a2a2" stroke-width="0.8"/>
<rect x="580.23" y="295.39" width="4.90" height="4.90" fill="#c0c0c0" stroke="#a2a2a2" stroke-width="0.8"/>
<rect x="613.51" y="100.68" width="4.90" height="4.90" fill="#c0c0c0" stroke="#a2a2a2" stroke-width="0.8"/>
<rect x="613.51" y="123.59" width="4.90" height="4.90" fill="#c0c0c0" stroke="#a2a2a2" stroke-width="0.8"/>
<rect x="613.51" y="129.32" width="4.90" height="4.90" fill="#c0c0c0" stroke="#a2a2a2" stroke-width="0.8"/>
<rect x="613.51" y="175.13" width="4.90" height="4.90" fill="#c0c0c0" stroke="#a2a2a2" stroke-width="0.8"/>
<rect x="613.51" y="192.31" width="4.90" height="4.90" fill="#c0c0c0" stroke="#a2a2a2" stroke-width="0.8"/>
<rect x="613.51" y="220.94" width="4.90" height="4.90" fill="#c0c0c0" stroke="#a2a2a2" stroke-width="0.8"/>
<rect x="613.51" y="226.67" width="4.90" height="4.90" fill="#c0c0c0" stroke="#a2a2a2" stroke-width="0.8"/>
<rect x="613.51" y="232.40" width="4.90" height="4.90" fill="#c0c0c0" stroke="#a2a2a2" stroke-width="0.8"/>
<rect x="613.51" y="238.12" width="4.90" height="4.90" fill="#c0c0c0" stroke="#a2a2a2" stroke-width="0.8"/>
<rect x="613.51" y="261.03" width="4.90" height="4.90" fill="#c0c0c0" stroke="#a2a2a2" stroke-width="0.8"/>
<rect x="613.51" y="266.76" width="4.90" height="4.90" fill="#c0c0c0" stroke="#a2a2a2" stroke-width="0.8"/>
<rect x="613.51" y="295.39" width="4.90" height="4.90" fill="#c0c0c0" stroke="#a2a2a2" stroke-width="0.8"/>
<rect x="646.79" y="37.69" width="4.90" height="4.90" fill="#c0c0c0" stroke="#a2a2a2" stroke-width="0.8"/>
<rect x="646.79" y="135.04" width="4.90" height="4.90" fill="#c0c0c0" stroke="#a2a2a2" stroke-width="0.8"/>
<rect x="646.79" y="261.03" width="4.90" height="4.90" fill="#c0c0c0" stroke="#a2a2a2" stroke-width="0.8"/>
<rect x="680.07" y="192.31" width="4.90" height="4.90" fill="#c0c0c0" stroke="#a2a2a2" stroke-width="0.8"/>
<line x1="383.00" y1="116.76" x2="682.52" y2="166.31" stroke="#222" stroke-width="1"/>
<line x1="383.00" y1="116.76" x2="682.52" y2="216.24" stroke="#949494" stroke-width="1"/>
<text x="373.90" y="300.54" text-anchor="end" class="t">-4</text>
<text x="373.90" y="266.18" text-anchor="end" class="t">-3</text>
<text x="373.90" y="231.82" text-anchor="end" class="t">-2</text>
<text x="373.90" y="197.46" text-anchor="end" class="t">-1</text>
<text x="373.90" y="163.10" text-anchor="end" class="t">0</text>
<text x="373.90" y="128.74" text-anchor="end" class="t">1</text>
<text x="373.90" y="94.38" text-anchor="end" class="t">2</text>
<text x="373.90" y="60.02" text-anchor="end" class="t">3</text>
<text x="373.90" y="25.66" text-anchor="end" class="t">4</text>
<text x="383.00" y="313.2" text-anchor="middle" class="t">0</text>
<text x="416.28" y="313.2" text-anchor="middle" class="t">1</text>
<text x="449.56" y="313.2" text-anchor="middle" class="t">2</text>
<text x="482.84" y="313.2" text-anchor="middle" class="t">3</text>
<text x="516.12" y="313.2" text-anchor="middle" class="t">4</text>
<text x="549.40" y="313.2" text-anchor="middle" class="t">5</text>
<text x="582.68" y="313.2" text-anchor="middle" class="t">6</text>
<text x="615.96" y="313.2" text-anchor="middle" class="t">7</text>
<text x="649.24" y="313.2" text-anchor="middle" class="t">8</text>
<text x="682.52" y="313.2" text-anchor="middle" class="t">9</text>
<text x="138.30" y="9.5" class="ttl" textLength="77.4" lengthAdjust="spacingAndGlyphs">Experiment 1</text>
<text x="118.40" y="329.4" class="ax" textLength="122.0" lengthAdjust="spacingAndGlyphs">Pandemic Threat Rating</text>
<path d="M111.00 345.15L114.15 348.30L111.00 351.45L107.85 348.30Z" fill="#000"/>
<text x="116.00" y="351.8" class="lg" textLength="62.2" lengthAdjust="spacingAndGlyphs">Masked faces</text>
<rect x="191.55" y="345.85" width="4.90" height="4.90" fill="#c0c0c0" stroke="#a2a2a2" stroke-width="0.8"/>
<text x="199.20" y="351.8" class="lg" textLength="74.7" lengthAdjust="spacingAndGlyphs">Unmasked faces</text>
<text x="487.80" y="9.5" class="ttl" textLength="78.4" lengthAdjust="spacingAndGlyphs">Experiment 2</text>
<text x="468.10" y="329.4" class="ax" textLength="122.0" lengthAdjust="spacingAndGlyphs">Pandemic Threat Rating</text>
<path d="M460.70 345.15L463.85 348.30L460.70 351.45L457.55 348.30Z" fill="#000"/>
<text x="465.70" y="351.8" class="lg" textLength="62.2" lengthAdjust="spacingAndGlyphs">Masked faces</text>
<rect x="541.25" y="345.85" width="4.90" height="4.90" fill="#c0c0c0" stroke="#a2a2a2" stroke-width="0.8"/>
<text x="548.90" y="351.8" class="lg" textLength="74.7" lengthAdjust="spacingAndGlyphs">Unmasked faces</text>
<text transform="translate(8.8 202.8) rotate(-90)" class="ax" textLength="82.6" lengthAdjust="spacingAndGlyphs">Number of steps</text>
</svg>
</body></html>
